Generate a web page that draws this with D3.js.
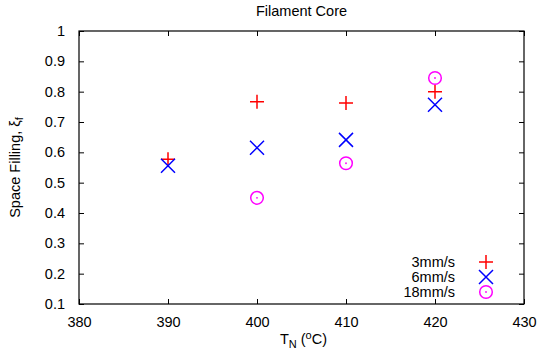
<!DOCTYPE html>
<html><head><meta charset="utf-8">
<script src="https://cdn.jsdelivr.net/npm/d3@7"></script>
<style>body{margin:0;background:#fff}svg text{font-family:"Liberation Sans",Arial,sans-serif;fill:#000}</style>
</head><body><svg id="c" width="539" height="360"></svg>
<script>
const temps = [390, 400, 410, 420];
const s3 = [0.577, 0.767, 0.763, 0.800];
const s6 = [0.556, 0.615, 0.641, 0.757];
const s18 = [null, 0.450, 0.564, 0.845];
const seriesNames = ["3mm/s", "6mm/s", "18mm/s"];
const seriesColors = ["#ff0000", "#0000ff", "#ff00ff"];
const seriesShapes = ["plus", "cross", "circle"];
const xTicks = [380, 390, 400, 410, 420, 430];
const yTicks = [0.1, 0.2, 0.3, 0.4, 0.5, 0.6, 0.7, 0.8, 0.9, 1];

const FS = "14.5px", FSS = "11px";
const svg = d3.select("#c");
const L = 79, R = 524, T = 31, B = 304;
const x = d3.scaleLinear().domain([380, 430]).range([L, R]);
const y = d3.scaleLinear().domain([0.1, 1]).range([B, T]);

const fmtY = d => d === 1 ? "1" : d3.format(".1f")(d);
const ax = (g, axis) => { g.call(axis); g.select(".domain").remove(); g.selectAll("line").attr("stroke", "#000"); g.selectAll("text").style("font-size", FS).style("font-family", '"Liberation Sans",Arial,sans-serif'); };
svg.append("g").attr("transform", `translate(0,${B})`).call(g => ax(g, d3.axisBottom(x).tickValues(xTicks).tickSizeInner(-5).tickPadding(13)));
svg.append("g").attr("transform", `translate(0,${T})`).call(g => ax(g, d3.axisTop(x).tickValues(xTicks).tickSizeInner(-5).tickFormat("")));
svg.append("g").attr("transform", `translate(${L},0)`).call(g => ax(g, d3.axisLeft(y).tickValues(yTicks).tickSizeInner(-5).tickPadding(14).tickFormat(fmtY)));
svg.append("g").attr("transform", `translate(${R},0)`).call(g => ax(g, d3.axisRight(y).tickValues(yTicks).tickSizeInner(-5).tickFormat("")));

svg.append("rect").attr("x", L).attr("y", T).attr("width", R - L).attr("height", B - T)
  .attr("fill", "none").attr("stroke", "#000").attr("stroke-width", 1.2);

function marker(g, shape, cx, cy, color) {
  const s = 7;
  if (shape === "plus") {
    g.append("path").attr("d", `M${cx - s},${cy}H${cx + s}M${cx},${cy - s}V${cy + s}`).attr("stroke", color).attr("stroke-width", 1.5).attr("fill", "none");
  } else if (shape === "cross") {
    g.append("path").attr("d", `M${cx - s},${cy - s}L${cx + s},${cy + s}M${cx - s},${cy + s}L${cx + s},${cy - s}`).attr("stroke", color).attr("stroke-width", 1.5).attr("fill", "none");
  } else {
    g.append("circle").attr("cx", cx).attr("cy", cy).attr("r", 6.3).attr("stroke", color).attr("stroke-width", 1.5).attr("fill", "none");
    g.append("circle").attr("cx", cx).attr("cy", cy).attr("r", 0.9).attr("fill", color);
  }
}

const allSeries = [s3, s6, s18];
allSeries.forEach((vals, i) => {
  const g = svg.append("g");
  vals.forEach((v, j) => { if (v != null) marker(g, seriesShapes[i], x(temps[j]), y(v), seriesColors[i]); });
});

const legY = [262, 277, 292];
seriesNames.forEach((n, i) => {
  svg.append("text").attr("x", 455).attr("y", legY[i]).attr("dy", "0.35em").attr("text-anchor", "end").style("font-size", FS).text(n);
  marker(svg.append("g"), seriesShapes[i], 486, legY[i], seriesColors[i]);
});

svg.append("text").attr("x", (L + R) / 2).attr("y", 16).attr("text-anchor", "middle").style("font-size", FS).text("Filament Core");
const xt = svg.append("text").attr("x", (L + R) / 2 + 2).attr("y", 344).attr("text-anchor", "middle").style("font-size", FS);
xt.append("tspan").text("T");
xt.append("tspan").attr("dy", 4).style("font-size", FSS).text("N");
xt.append("tspan").attr("dy", -4).text(" (");
xt.append("tspan").attr("dy", -5).style("font-size", FSS).text("o");
xt.append("tspan").attr("dy", 5).text("C)");
const yt = svg.append("text").attr("transform", `translate(20,${(T + B) / 2}) rotate(-90)`).attr("text-anchor", "middle").style("font-size", FS);
yt.append("tspan").text("Space Filling, ξ");
yt.append("tspan").attr("dy", 3).style("font-size", FSS).text("f");
</script></body></html>
